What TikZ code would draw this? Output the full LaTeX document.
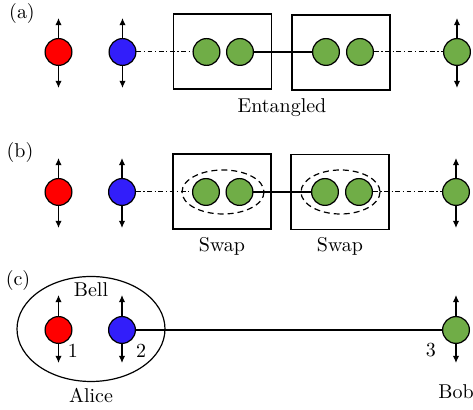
\documentclass[tikz,border=0pt]{standalone}
\usetikzlibrary{arrows.meta}
\definecolor{qred}{RGB}{255,0,0}
\definecolor{qblue}{RGB}{50,30,250}
\definecolor{qgreen}{RGB}{112,173,71}
\begin{document}
\begin{tikzpicture}[x=0.5pt,y=-0.5pt,
  qubit/.style={circle,draw=black,line width=0.6pt,minimum size=13.4pt,inner sep=0pt},
  spin/.style={line width=0.6pt,-{Latex[length=3.6pt,width=3.2pt]}},
  dashdot/.style={line width=0.5pt,dash pattern=on 2.4pt off 1.3pt on 0.6pt off 1.3pt},
  bond/.style={line width=0.6pt},
  frame/.style={draw,line width=0.6pt},
  pairring/.style={draw,line width=0.6pt,dash pattern=on 3pt off 2pt},
  lbl/.style={inner sep=0pt}]
\useasboundingbox (0,0) rectangle (473,410);

% ---------- (a) entangled pairs ----------
\node[lbl] (la) at (22,14) {(a)};
\node[frame,minimum width=49pt,minimum height=37.5pt,inner sep=0pt] (A1) at (222.5,51.5) {};
\node[frame,minimum width=49pt,minimum height=37.5pt,inner sep=0pt] (A2) at (341,52.5) {};
\node[qubit,fill=qred]   (ar)  at (58.5,52) {};
\node[qubit,fill=qblue]  (ab)  at (122.5,52) {};
\node[qubit,fill=qgreen] (ag1) at (206.5,52) {};
\node[qubit,fill=qgreen] (ag2) at (240,52) {};
\node[qubit,fill=qgreen] (ag3) at (326,52) {};
\node[qubit,fill=qgreen] (ag4) at (360,52) {};
\node[qubit,fill=qgreen] (ag5) at (457,52) {};
\draw[dashdot] (ab) -- (ag1);
\draw[bond] (ag2) -- (ag3);
\draw[dashdot] (ag4) -- (ag5);
\foreach \q in {ar,ab,ag5}{
  \coordinate (\q-up) at ([yshift=17pt]\q.center);
  \coordinate (\q-dn) at ([yshift=-18pt]\q.center);
  \draw[spin] (\q.north) -- (\q-up);
  \draw[spin] (\q.south) -- (\q-dn);
}
\node[lbl] (ent) at (282,108) {Entangled};

% ---------- (b) swap operations ----------
\node[lbl] (lb) at (20,153) {(b)};
\node[frame,minimum width=49pt,minimum height=37.5pt,inner sep=0pt] (B1) at (222,191.5) {};
\node[frame,minimum width=49pt,minimum height=37.5pt,inner sep=0pt] (B2) at (340,192) {};
\draw[pairring] (223,192) ellipse [x radius=41,y radius=22];
\draw[pairring] (340.5,192) ellipse [x radius=39.5,y radius=22];
\node[qubit,fill=qred]   (br)  at (58.5,192) {};
\node[qubit,fill=qblue]  (bb)  at (122,192) {};
\node[qubit,fill=qgreen] (bg1) at (206,192) {};
\node[qubit,fill=qgreen] (bg2) at (239.5,192) {};
\node[qubit,fill=qgreen] (bg3) at (325,192) {};
\node[qubit,fill=qgreen] (bg4) at (359,192) {};
\node[qubit,fill=qgreen] (bg5) at (456,192) {};
\draw[dashdot] (bb) -- (bg1);
\draw[bond] (bg2) -- (bg3);
\draw[dashdot] (bg4) -- (bg5);
\foreach \q in {br,bb,bg5}{
  \coordinate (\q-up) at ([yshift=17pt]\q.center);
  \coordinate (\q-dn) at ([yshift=-18pt]\q.center);
  \draw[spin] (\q.north) -- (\q-up);
  \draw[spin] (\q.south) -- (\q-dn);
}
\node[lbl] (sw1) at (222,246) {Swap};
\node[lbl] (sw2) at (340,246) {Swap};

% ---------- (c) Alice and Bob ----------
\node[lbl] (lc) at (18,281) {(c)};
\draw[line width=0.6pt] (91,329) ellipse [x radius=74,y radius=52.5];
\node[qubit,fill=qred]   (cr) at (58.5,330) {};
\node[qubit,fill=qblue]  (cb) at (122,330) {};
\node[qubit,fill=qgreen] (cg) at (456,330) {};
\draw[bond] (cb) -- (cg);
\foreach \q in {cr,cb,cg}{
  \coordinate (\q-up) at ([yshift=17.5pt]\q.center);
  \coordinate (\q-dn) at ([yshift=-16.5pt]\q.center);
  \draw[spin] (\q.north) -- (\q-up);
  \draw[spin] (\q.south) -- (\q-dn);
}
\node[lbl] (bell)  at (91,290) {Bell};
\node[lbl] (n1)    at (73,351) {1};
\node[lbl] (n2)    at (141,351) {2};
\node[lbl] (alice) at (91,395) {Alice};
\node[lbl] (n3)    at (431,350) {3};
\node[lbl] (bob)   at (456,392) {Bob};
\end{tikzpicture}
\end{document}
